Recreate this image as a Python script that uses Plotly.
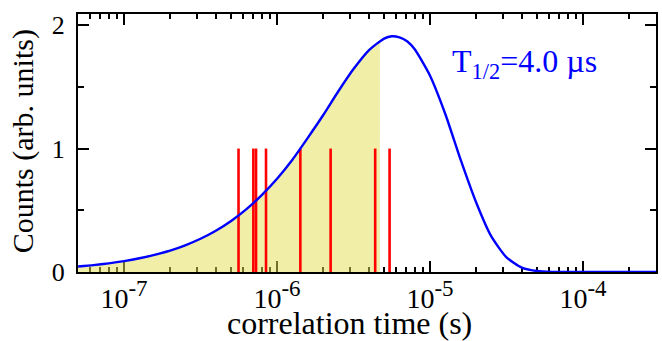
import plotly.graph_objects as go

# Blue curve: correlation-time distribution
curve_t = [5.01e-08, 6.31e-08, 7.94e-08, 1.0e-07, 1.26e-07, 1.58e-07, 2.0e-07, 2.51e-07,
           3.16e-07, 3.98e-07, 5.01e-07, 6.31e-07, 7.94e-07, 1.0e-06, 1.26e-06, 1.58e-06,
           2.0e-06, 2.51e-06, 3.16e-06, 3.98e-06, 5.01e-06, 5.62e-06, 6.31e-06, 7.08e-06,
           7.94e-06, 1.0e-05,
           1.26e-05, 1.58e-05, 2.0e-05, 2.51e-05, 3.16e-05, 3.98e-05, 5.01e-05, 6.31e-05,
           7.94e-05, 1.0e-04, 1.26e-04, 1.58e-04, 2.0e-04, 2.51e-04, 3.0e-04]
curve_counts = [0.045, 0.056, 0.070, 0.088, 0.111, 0.139, 0.173, 0.216,
                0.269, 0.334, 0.413, 0.509, 0.623, 0.756, 0.910, 1.083,
                1.270, 1.462, 1.644, 1.796, 1.891, 1.910, 1.901, 1.869,
                1.804, 1.590,
                1.278, 0.914, 0.565, 0.290, 0.119, 0.036, 0.0076, 0.001,
                0.0001, 0.0, 0.0, 0.0, 0.0, 0.0, 0.0]

# Shaded region (ends at ~4.7 us)
fill_t = [5.01e-08, 6.31e-08, 7.94e-08, 1.0e-07, 1.26e-07, 1.58e-07, 2.0e-07, 2.51e-07,
          3.16e-07, 3.98e-07, 5.01e-07, 6.31e-07, 7.94e-07, 1.0e-06, 1.26e-06, 1.58e-06,
          2.0e-06, 2.51e-06, 3.16e-06, 3.98e-06, 4.7e-06]
fill_counts = [0.045, 0.056, 0.070, 0.088, 0.111, 0.139, 0.173, 0.216,
               0.269, 0.334, 0.413, 0.509, 0.623, 0.756, 0.910, 1.083,
               1.270, 1.462, 1.644, 1.796, 1.872]

# Red events
event_t = [5.60e-07, 7.0e-07, 7.29e-07, 8.47e-07, 1.42e-06, 2.24e-06, 4.38e-06, 5.44e-06]
event_height = 1.0

tick_vals = [1e-7, 1e-6, 1e-5, 1e-4]
tick_exponents = ["-7", "-6", "-5", "-4"]
tick_text = ["10<sup><span style='font-size:23px'>%s</span></sup>" % e for e in tick_exponents]

FONT = "Liberation Serif"

fig = go.Figure()

fig.add_trace(go.Scatter(
    x=fill_t, y=fill_counts, mode="lines", fill="tozeroy",
    line=dict(width=0, shape="spline", smoothing=0.6),
    fillcolor="rgba(228,221,80,0.5)", hoverinfo="skip", showlegend=False))

ex, ey = [], []
for t in event_t:
    ex += [t, t, None]
    ey += [0, event_height, None]
fig.add_trace(go.Scatter(x=ex, y=ey, mode="lines",
                         line=dict(color="#ff0000", width=2.6), showlegend=False))

fig.add_trace(go.Scatter(
    x=curve_t, y=curve_counts, mode="lines",
    line=dict(color="#0000ff", width=2.4, shape="spline", smoothing=0.6),
    showlegend=False))

fig.add_annotation(
    text="T<sub>1/2</sub>=4.0 µs", xref="paper", yref="paper",
    x=0.644, y=0.81, xanchor="left", yanchor="middle", showarrow=False,
    font=dict(family=FONT, size=32, color="#0000ff"))

# axis titles
fig.add_annotation(
    text="correlation time (s)", xref="paper", yref="paper",
    x=0.4697, y=-0.197, xanchor="center", yanchor="middle", showarrow=False,
    font=dict(family=FONT, size=32, color="black"))
fig.add_annotation(
    text="Counts (arb. units)", xref="paper", yref="paper", textangle=-90,
    x=-0.0960, y=0.505, xanchor="center", yanchor="middle", showarrow=False,
    font=dict(family=FONT, size=30, color="black"))

fig.update_layout(
    width=662, height=341,
    margin=dict(l=78, r=6, t=14, b=69, autoexpand=False),
    paper_bgcolor="white", plot_bgcolor="white",
    font=dict(family=FONT, color="black", size=24),
    xaxis=dict(
        type="log", range=[-7.301, -3.523], automargin=False,
        tickmode="array", tickvals=tick_vals, ticktext=tick_text,
        ticks="inside", ticklen=11, tickwidth=1.5, tickcolor="black",
        minor=dict(ticks="inside", ticklen=5, tickwidth=1.5, tickcolor="black",
                   dtick="D1", showgrid=False),
        showline=True, linewidth=2, linecolor="black", mirror="allticks",
        showgrid=False, zeroline=False, layer="below traces",
        ticklabelstandoff=0,
        tickfont=dict(family=FONT, size=28, color="black")),
    yaxis=dict(
        range=[0, 2.09], automargin=False,
        tickmode="array", tickvals=[0, 1, 2], ticktext=["0", "1", "2"],
        ticks="inside", ticklen=11, tickwidth=1.5, tickcolor="black",
        minor=dict(ticks="inside", ticklen=6, tickwidth=1.5, tickcolor="black",
                   tickvals=[0.5, 1.5], showgrid=False),
        showline=True, linewidth=2, linecolor="black", mirror="allticks",
        showgrid=False, zeroline=False, layer="below traces",
        ticklabelstandoff=6,
        tickfont=dict(family=FONT, size=26, color="black")),
)

fig.write_html("out.html", config={"displayModeBar": False},
               post_script="document.body.style.margin='0px';document.body.style.overflow='hidden';")
